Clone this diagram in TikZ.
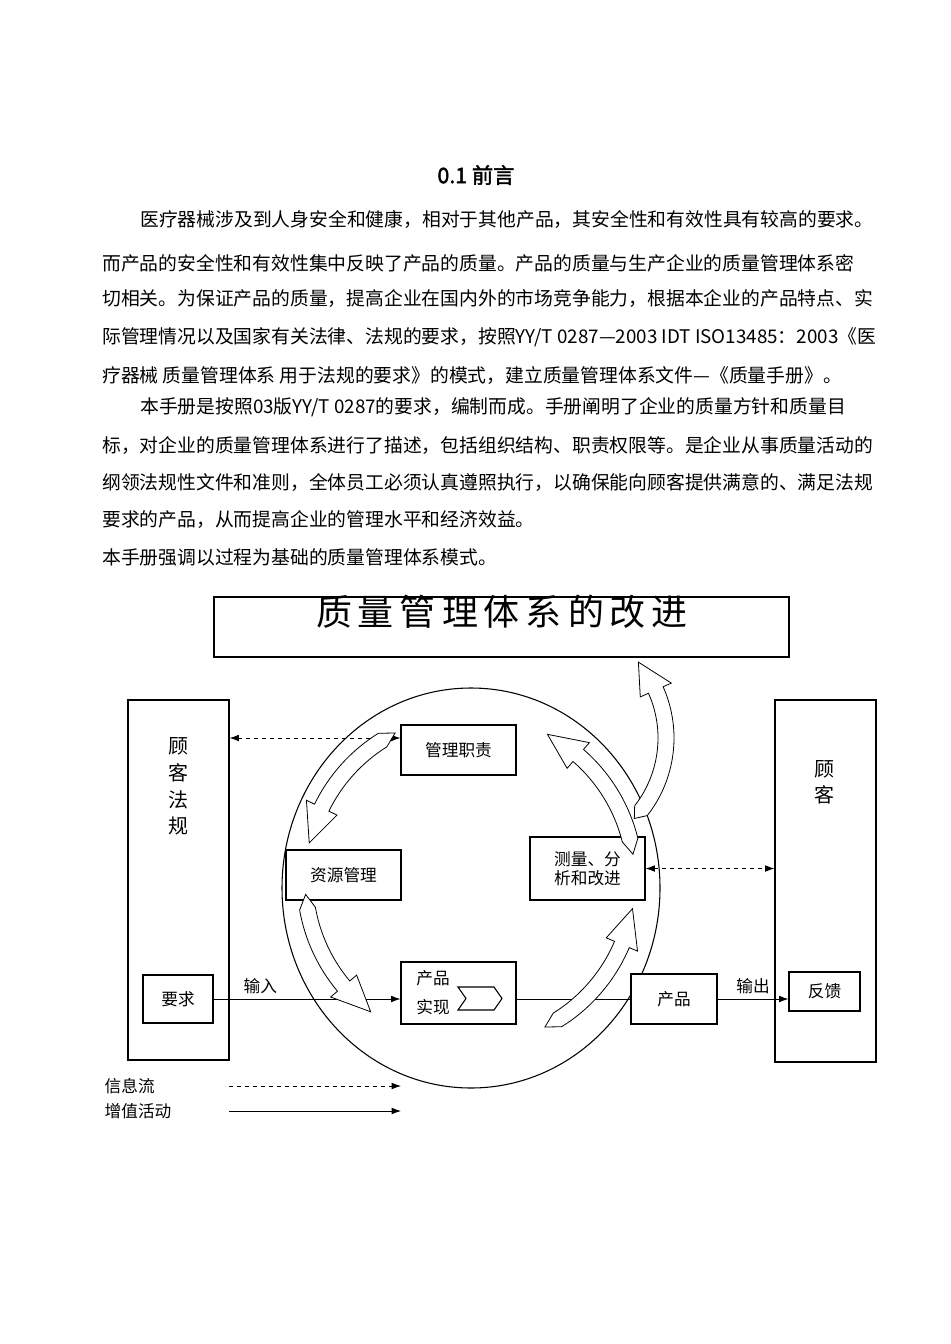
\documentclass[tikz,border=0pt]{standalone}
\usepackage{fontspec}
\setmainfont{Noto Sans CJK SC}
\newfontfamily\titlefont{Noto Sans CJK SC}[FakeBold=2]
\usetikzlibrary{arrows.meta}
\def\px{0.75pt}
\tikzset{
  box/.style={draw, thick, fill=white, inner sep=0pt, font=\fontsize{12.5}{14}\selectfont},
  para/.style={anchor=west, inner sep=0pt, font=\fontsize{14.1}{16}\selectfont},
  curlarrow/.style={draw, fill=white, line width=0.6pt},
  flow/.style={-{Latex[length=7pt,width=5pt]}, semithick},
  info/.style={{Latex[length=7pt,width=5pt]}-{Latex[length=7pt,width=5pt]}, semithick, dashed}
}
% curly arrow: centre x, centre y, radius, start angle, end angle, head length
\newcommand\curl[6]{%
  \begin{scope}[shift={(#1,#2)}]
    \path[curlarrow] ({#4}:{#3+8}) arc[start angle={#4}, end angle={#5+#6}, radius={#3+8}]
      -- ({#5+#6}:{#3+17}) -- ({#5}:{#3}) -- ({#5+#6}:{#3-17}) -- ({#5+#6}:{#3-8})
      arc[start angle={#5+#6}, end angle={#4}, radius={#3-8}]
      -- ({#4+5}:{#3}) -- cycle;
  \end{scope}}
\begin{document}
\begin{tikzpicture}[x=0.75pt, y=-0.75pt]
\useasboundingbox (0,0) rectangle (950,1344);

%text of the preface
\node[font=\titlefont\fontsize{16}{18}\selectfont] (title) at (476,175) {0.1 前言};
\node[para] (l1) at (140,220) {医疗器械涉及到人身安全和健康，相对于其他产品，其安全性和有效性具有较高的要求。};
\node[para] (l2) at (102,263) {而产品的安全性和有效性集中反映了产品的质量。产品的质量与生产企业的质量管理体系密};
\node[para] (l3) at (102,299) {切相关。为保证产品的质量，提高企业在国内外的市场竞争能力，根据本企业的产品特点、实};
\node[para] (l4) at (102,337) {际管理情况以及国家有关法律、法规的要求，按照YY/T 0287—2003 IDT ISO13485：2003《医};
\node[para] (l5) at (102,376) {疗器械 质量管理体系 用于法规的要求》的模式，建立质量管理体系文件—《质量手册》。};
\node[para] (l6) at (140,407) {本手册是按照03版YY/T 0287的要求，编制而成。手册阐明了企业的质量方针和质量目};
\node[para] (l7) at (102,446) {标，对企业的质量管理体系进行了描述，包括组织结构、职责权限等。是企业从事质量活动的};
\node[para] (l8) at (102,483) {纲领法规性文件和准则，全体员工必须认真遵照执行，以确保能向顾客提供满意的、满足法规};
\node[para] (l9) at (102,520) {要求的产品，从而提高企业的管理水平和经济效益。};
\node[para] (l10) at (102,557) {本手册强调以过程为基础的质量管理体系模式。};

%process circle
\draw[thick] (471,888) ellipse[x radius=189, y radius=200];

%top and side boxes
\node[box, minimum width=575*\px, minimum height=60*\px] (improve) at (501.5,627) {};
\node[font=\fontsize{27}{29}\selectfont] (improvetxt) at (502,612) {质\,量\,管\,理\,体\,系\,的\,改\,进};
\node[box, minimum width=101*\px, minimum height=360*\px] (law) at (178.5,880) {};
\node[font=\fontsize{15}{20}\selectfont, align=center, anchor=north] (lawtxt) at (178,733) {顾\\客\\法\\规};
\node[box, minimum width=101*\px, minimum height=362*\px] (cust) at (825.5,881) {};
\node[font=\fontsize{15}{19}\selectfont, align=center, anchor=north] (custtxt) at (824,756) {顾\\客};
\node[box, minimum width=70*\px, minimum height=48*\px] (req) at (178,999) {要求};
\node[box, minimum width=71*\px, minimum height=39*\px] (fb) at (824.5,991.5) {反馈};

%processes
\node[box, minimum width=115*\px, minimum height=50*\px] (mgmt) at (458.5,750) {管理职责};
\node[box, minimum width=115*\px, minimum height=50*\px] (res) at (343.5,875) {资源管理};
\node[box, minimum width=115*\px, minimum height=63*\px, align=center] (meas) at (587.5,868.5) {测量、分\\析和改进};
\node[box, minimum width=115*\px, minimum height=62*\px] (real) at (458.5,993) {};
\node[font=\fontsize{12.5}{22}\selectfont, align=center] (realtxt) at (433,993) {产品\\实现};
\draw[thick] (458,987) -- (494,987) -- (502,998.5) -- (494,1010) -- (458,1010) -- (466,998.5) -- cycle;
\node[box, minimum width=86*\px, minimum height=50*\px] (prod) at (674,999) {产品};

%flows
\coordinate (realin) at (real.west |- req.east);
\draw[flow] (req.east) -- node[above, pos=0.25, font=\fontsize{12.5}{14}\selectfont] (inlbl) {输入} (realin);
\draw[semithick] (real.east |- prod.west) -- (prod.west);
\draw[flow] (prod.east) -- node[above, font=\fontsize{12.5}{14}\selectfont] (outlbl) {输出} (fb.west |- prod.east);
\coordinate (lawtop) at (law.east |- 0,738);
\draw[info] (lawtop) -- (mgmt.west |- lawtop);
\coordinate (custmid) at (cust.west |- meas.east);
\draw[info] (meas.east) -- (custmid);

%cycle arrows
\curl{470}{880}{165}{238}{193}{13}
\curl{470}{880}{165}{170}{127}{13}
\curl{470}{880}{165}{58}{10}{13}
\curl{470}{880}{165}{-14}{-62}{13}
\curl{548}{738}{118}{38}{-40}{16}

%legend
\node[anchor=west, font=\fontsize{12.5}{14}\selectfont] (infolbl) at (100,1086) {信息流};
\node[anchor=west, font=\fontsize{12.5}{14}\selectfont] (addlbl) at (100,1111) {增值活动};
\coordinate (infoa) at (229,1086);
\coordinate (infob) at (401,1086);
\coordinate (adda) at (229,1111);
\coordinate (addb) at (401,1111);
\draw[flow, dashed] (infoa) -- (infob);
\draw[flow] (adda) -- (addb);
\end{tikzpicture}
\end{document}
